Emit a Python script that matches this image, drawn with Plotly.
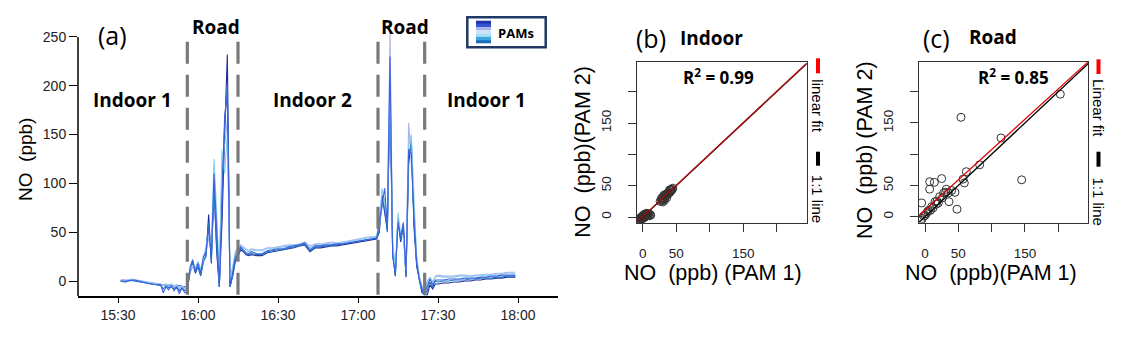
import plotly.graph_objects as go

W, H = 1122, 337
DAY = "2020-01-01 "

# ---------- panel (a): NO time series from the PAMs ----------
times = (
    ["15:31", "15:32", "15:33", "15:34", "15:35", "15:36", "15:37", "15:38", "15:39", "15:40",
     "15:41", "15:42", "15:43", "15:44", "15:45", "15:46", "15:47", "15:48", "15:49", "15:50",
     "15:51", "15:52", "15:53", "15:54", "15:55"]
    + ["15:56", "15:57", "15:58", "15:59", "16:00", "16:01", "16:02", "16:03", "16:04", "16:05",
       "16:06", "16:07", "16:08", "16:09", "16:10", "16:11", "16:12", "16:13", "16:14"]
    + ["16:15", "16:16", "16:17", "16:18", "16:19", "16:20", "16:22", "16:24", "16:26", "16:28",
       "16:30", "16:32", "16:34", "16:36", "16:38", "16:40", "16:42", "16:44", "16:46", "16:48",
       "16:50", "16:52", "16:54", "16:56", "16:58", "17:00", "17:02", "17:04", "17:06"]
    + ["17:07", "17:08", "17:09", "17:10", "17:11", "17:12", "17:13", "17:14", "17:15", "17:16",
       "17:17", "17:18", "17:19", "17:20", "17:21", "17:22", "17:23", "17:24", "17:25"]
    + ["17:26", "17:27", "17:28", "17:29", "17:30", "17:32", "17:34", "17:36", "17:38", "17:40",
       "17:42", "17:44", "17:46", "17:48", "17:50", "17:52", "17:54", "17:56", "17:58", "17:59"]
)

pam_a = ([0.5, 0.3, 0, 0.5, 1, 0.5, 0, -0.5, -1, -1.5, -2, -2.5, -3, -3, -3.5, -3.5, -4, -4, -4.5, -4, -5, -4.5, -5, -5.5, -6]
         + [-8, 10, 18, 8, 14, 6, 20, 25, 68, 18, 100, 30, -6, 60, 150, 232, -6, 5, 20]
         + [25, 32, 30, 27, 26, 27, 26, 26, 29, 30, 31, 32, 33, 34, 36, 37, 30, 34, 34, 35, 36, 36, 37, 38, 39, 40, 41, 42, 43]
         + [43, 50, 88, 70, 52, 190, 30, 5, 65, 40, 55, 4, 120, 145, 55, 15, 0, -12, -14]
         + [-14, -4, -8, -3, -3, -2, -2, -1, -1, 0, 0, 1, 1, 2, 2, 3, 3, 4, 4, 4])
pam_b = ([0, 0, -0.5, 0.5, 1, 1, 0.5, 0, -1, -1.5, -2.5, -3, -3, -3.5, -4, -4, -12, -6, -9, -5, -10, -6, -13, -7, -12]
         + [-12, 14, 22, 10, 18, 8, 25, 30, 55, 25, 110, 45, -4, 80, 170, 190, -4, 8, 25]
         + [30, 35, 32, 29, 28, 30, 28, 28, 31, 32, 33, 33, 35, 36, 37, 39, 32, 36, 36, 37, 37, 38, 38, 39, 40, 41, 42, 43, 44]
         + [44, 60, 80, 95, 55, 230, 25, 8, 60, 45, 60, 8, 135, 130, 65, 20, 2, -8, -13]
         + [-6, 2, -4, 1, 1, 1, 2, 2, 2, 3, 3, 3, 4, 4, 5, 5, 6, 6, 6, 6])
pam_c = ([1, 1.5, 1, 1.5, 2, 1.5, 1, 0.5, 0, -0.5, -1, -1.5, -2, -2, -2.5, -3, -5, -4, -6, -3.5, -7, -4, -8, -5, -9]
         + [-6, 8, 15, 12, 12, 10, 18, 28, 45, 30, 90, 60, 5, 120, 140, 165, 0, 12, 28]
         + [33, 37, 35, 33, 31, 33, 32, 32, 34, 34, 35, 36, 37, 37, 38, 40, 36, 38, 38, 39, 40, 39, 40, 41, 42, 43, 44, 45, 45]
         + [45, 55, 75, 85, 60, 255, 35, 15, 55, 50, 50, 12, 162, 120, 70, 25, 5, -5, -10]
         + [0, 4, -2, 5, 6, 5, 5, 5, 6, 6, 5, 6, 6, 7, 7, 8, 8, 9, 9, 9])
pam_d = ([0, 0.5, 0, 0.5, 1.5, 1, 0.5, 0, -0.5, -1, -1.5, -2, -2.5, -2.5, -3, -3, -4, -3, -4.5, -3, -5, -4, -6, -5, -7]
         + [-5, 12, 16, 14, 20, 12, 22, 35, 50, 35, 125, 70, 0, 135, 110, 150, 2, 15, 30]
         + [35, 36, 34, 32, 30, 32, 31, 31, 33, 33, 34, 35, 36, 36, 38, 39, 34, 37, 37, 38, 38, 39, 39, 40, 41, 42, 43, 44, 45]
         + [46, 58, 95, 80, 62, 210, 40, 12, 70, 48, 45, 10, 140, 150, 80, 22, 3, -6, -12]
         + [-3, 3, 0, 4, 5, 4, 4, 4, 5, 5, 5, 5, 6, 6, 6, 7, 7, 8, 8, 8])
pam_e = ([-0.5, -0.5, -1, 0, 0.5, 0, -0.5, -1, -1.5, -2, -2.5, -3, -3.5, -4, -4, -4.5, -8, -5, -7, -5.5, -8, -6, -10, -7, -10]
         + [-10, 10, 20, 9, 15, 5, 20, 28, 60, 20, 95, 35, -6, 100, 160, 200, -6, 6, 22]
         + [28, 34, 31, 28, 27, 28, 27, 27, 30, 31, 32, 32, 34, 35, 36, 38, 31, 35, 35, 36, 36, 37, 38, 39, 40, 41, 42, 43, 44]
         + [44, 52, 85, 75, 50, 200, 28, 6, 62, 42, 58, 5, 128, 140, 60, 18, 1, -10, -14]
         + [-10, -1, -6, 0, -1, 0, 0, 1, 1, 1, 2, 2, 3, 3, 3, 4, 4, 5, 5, 5])

# drawn back to front
pam_series = [pam_a, pam_c, pam_e, pam_d, pam_b]
pam_colors = ["#1f2f9a", "#a9b3f0", "#1b7ac0", "#86cff2", "#3f5fe0"]
swatch_colors = ["#1c30b0", "#3452d0", "#a4b2f0", "#cfe2fa", "#a2def7", "#3fa6e0", "#1a70b8"]

road_bounds = ["15:56", "16:15", "17:07:30", "17:25"]
time_ticks = ["15:30", "16:00", "16:30", "17:00", "17:30", "18:00"]
no_ticks = [0, 50, 100, 150, 200, 250]

# ---------- panels (b) and (c): PAM 1 vs PAM 2 ----------
indoor_pam1 = [-7, -6, -5, -4, -3, -2, -1, 0, 1, 2, 3, 4, 5, 6, 7, 8, 10, 12, -3, 0, 2, 4,
               -6, -4, -2, 0, 2, 4, 6, 8, -5, -1, 3, 7, 9, 11, 1, 5,
               26, 28, 29, 30, 31, 32, 33, 34, 35, 36, 37, 38, 39, 40, 41, 42, 43, 44, 45, 30, 33, 36, 28, 32,
               34, 38, 40, 42, 29, 31]
indoor_pam2 = [-8, -6, -6, -4, -4, -3, -1, -1, 1, 0, 2, 1, 3, 4, 5, 3, 2, 3, -1, 1, 3, 2,
               -4, -2, 0, 2, 4, 5, 6, 4, -7, -3, 0, 2, 5, 4, -2, 1,
               25, 27, 29, 28, 31, 30, 33, 33, 35, 35, 37, 38, 38, 40, 40, 42, 43, 44, 46, 24, 27, 31, 30, 35,
               36, 39, 43, 44, 26, 33]
road_pam1 = [203, 54, 114, 145, 82, 62, 59, 57, 25, 7, 14, 7, -5, 32, 31, 45, 36, 48, 28, 18, 15,
             10, 5, 2, -2, -4, 4, 22, 40, 8, 12, 17, 20, -6, 0, 26, 35]
road_pam2 = [196, 159, 126, 59, 83, 72, 54, 60, 61, 56, 55, 44, 22, 44, 39, 39, 24, 12, 38, 25, 24,
             16, 10, 5, 1, -3, 8, 32, 42, 10, 14, 20, 22, -6, 2, 30, 38]
fit_indoor = (0.5, 1.0)    # intercept, slope
fit_road = (10.5, 0.97)
scatter_ticks = [0, 50, 100, 150, 200]
scatter_ticktext = ["0", "50", "", "150", ""]
range_b = ([-8.06, 244.8], [-9.1, 247.9])
range_c = ([-9.0, 245.0], [-9.6, 248.0])


def fx(p):
    return p / W


def fy(p):
    return 1 - p / H


fig = go.Figure()

for vals, col in zip(pam_series, pam_colors):
    fig.add_trace(go.Scatter(x=[DAY + t for t in times], y=vals, mode="lines",
                             line=dict(color=col, width=1.1), xaxis="x", yaxis="y"))

for (p1, p2, fit, rng, ax, red) in [(indoor_pam1, indoor_pam2, fit_indoor, range_b, "2", "#b01010"),
                                    (road_pam1, road_pam2, fit_road, range_c, "3", "#e00000")]:
    fig.add_trace(go.Scatter(x=p1, y=p2, mode="markers", xaxis="x" + ax, yaxis="y" + ax,
                             marker=dict(symbol="circle-open", size=8, color="#333",
                                         line=dict(width=1))))
    xr = rng[0]
    fig.add_trace(go.Scatter(x=xr, y=xr, mode="lines", line=dict(color="black", width=1.3),
                             xaxis="x" + ax, yaxis="y" + ax))
    fig.add_trace(go.Scatter(x=xr, y=[fit[0] + fit[1] * v for v in xr], mode="lines",
                             line=dict(color=red, width=1.3), xaxis="x" + ax, yaxis="y" + ax))

tick_font = dict(family="Liberation Sans", size=14, color="#222")
small_font = dict(family="Liberation Sans", size=13.5, color="#222")

fig.update_layout(
    width=W, height=H, autosize=False, showlegend=False,
    margin=dict(l=0, r=0, t=0, b=0),
    paper_bgcolor="white", plot_bgcolor="white",
    xaxis=dict(domain=[fx(78), fx(558)], type="date", anchor="y",
               range=[DAY + "15:15", DAY + "18:15"],
               tickvals=[DAY + t for t in time_ticks], ticktext=time_ticks,
               ticks="outside", ticklen=5, tickcolor="black", tickwidth=1.3,
               showline=True, linecolor="black", linewidth=1.5,
               showgrid=False, zeroline=False, tickfont=tick_font),
    yaxis=dict(domain=[fy(296), fy(28)], range=[-15.35, 259.2], anchor="x",
               tickvals=no_ticks, ticks="outside", ticklen=8, tickcolor="black", tickwidth=1.3,
               showline=False, showgrid=False, zeroline=False, tickfont=tick_font),
)

for ax, xdom, rng in [("2", [fx(637.3), fx(806.7)], range_b), ("3", [fx(919), fx(1088.3)], range_c)]:
    common = dict(tickvals=scatter_ticks, ticktext=scatter_ticktext, ticks="outside", ticklen=8,
                  tickcolor="#333", tickwidth=1.2, showline=True, mirror=True,
                  linecolor="#333", linewidth=1.2, showgrid=False, zeroline=False,
                  tickfont=small_font)
    fig.update_layout(**{
        "xaxis" + ax: dict(domain=xdom, range=rng[0], anchor="y" + ax,
                           ticklabelstandoff=10, **common),
        "yaxis" + ax: dict(domain=[fy(222.7), fy(61.7)], range=rng[1], anchor="x" + ax,
                           tickangle=-90, ticklabelstandoff=12, **common),
    })

shapes = []
# R-style left axis of panel (a): only from the bottom to the 250 tick
shapes.append(dict(type="line", xref="x domain", yref="y", x0=0, x1=0, y0=-15.35, y1=250,
                   line=dict(color="black", width=1.5)))
for t in road_bounds:
    shapes.append(dict(type="line", xref="x", yref="y", x0=DAY + t, x1=DAY + t, y0=245, y1=-15.35,
                       line=dict(color="#7a7a7a", width=3.2, dash="22px,11px")))
# PAMs legend box
shapes.append(dict(type="rect", xref="paper", yref="paper", x0=fx(467.3), x1=fx(545.7),
                   y0=fy(47.3), y1=fy(17.3), line=dict(color="#1f3864", width=2.5),
                   fillcolor="white"))
band = (43.3 - 20.7) / len(swatch_colors)
for i, c in enumerate(swatch_colors):
    shapes.append(dict(type="rect", xref="paper", yref="paper", x0=fx(476), x1=fx(491),
                       y0=fy(20.7 + band * (i + 1)), y1=fy(20.7 + band * i),
                       line=dict(width=0), fillcolor=c))
# fit / 1:1 keys at the right of (b) and (c)
for x0, yr, yk in [(816, (58.3, 73.3), (151.7, 165.7)), (1096.5, (59.3, 74), (151.7, 166.7))]:
    shapes.append(dict(type="rect", xref="paper", yref="paper", x0=fx(x0), x1=fx(x0 + 4),
                       y0=fy(yr[1]), y1=fy(yr[0]), line=dict(width=0), fillcolor="#ff0000"))
    shapes.append(dict(type="rect", xref="paper", yref="paper", x0=fx(x0), x1=fx(x0 + 4),
                       y0=fy(yk[1]), y1=fy(yk[0]), line=dict(width=0), fillcolor="black"))
fig.update_layout(shapes=shapes)


def note(text, x, y, size, bold=False, angle=0, family="Open Sans"):
    fig.add_annotation(text="<b>%s</b>" % text if bold else text, x=fx(x), y=fy(y),
                       xref="paper", yref="paper", xanchor="center", yanchor="middle",
                       showarrow=False, textangle=angle,
                       font=dict(family=family, size=size, color="black"))


note("(a)", 112, 35, 25)
note("Road", 216, 27, 19, bold=True)
note("Road", 404.7, 27, 19, bold=True)
note("Indoor 1", 132.5, 100, 19, bold=True)
note("Indoor 2", 312, 100, 19, bold=True)
note("Indoor 1", 486.5, 100, 19, bold=True)
note("PAMs", 516, 33, 13, bold=True)
note("NO\u00a0\u00a0(ppb)", 25, 160, 19, angle=-90, family="Liberation Sans")

note("(b)", 651, 38, 25)
note("Indoor", 711, 37.5, 19, bold=True)
note("(c)", 936.7, 38, 25)
note("Road", 993, 37, 19, bold=True)
note("R<sup>2</sup> = 0.99", 718.7, 76, 17, bold=True)
note("R<sup>2</sup> = 0.85", 1013.7, 76, 17, bold=True)

note("NO\u00a0\u00a0(ppb)(PAM 2)", 583, 151.7, 21.5, angle=-90, family="Liberation Sans")
note("NO\u00a0\u00a0(ppb) (PAM 1)", 713, 273.3, 21.5, family="Liberation Sans")
note("NO\u00a0\u00a0(ppb) (PAM 2)", 865, 150, 21.5, angle=-90, family="Liberation Sans")
note("NO\u00a0\u00a0(ppb)(PAM 1)", 991.3, 273.3, 21.5, family="Liberation Sans")

note("linear fit", 817.5, 105.8, 15, angle=90, family="Liberation Sans")
note("1:1 line", 817.5, 198.3, 15, angle=90, family="Liberation Sans")
note("Linear fit", 1098, 108, 15, angle=90, family="Liberation Sans")
note("1:1 line", 1098, 201.5, 15, angle=90, family="Liberation Sans")

# the page body has a default 8px margin; drop it so the figure fills the window
fig.write_html("out.html", config={"displayModeBar": False},
               post_script="document.body.style.margin='0';document.body.style.padding='0';")
